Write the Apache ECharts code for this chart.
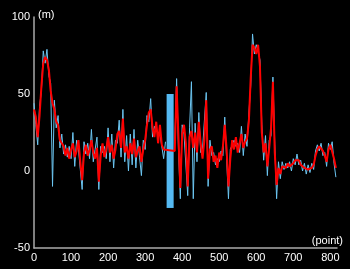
<!DOCTYPE html>
<html>
<head>
<meta charset="utf-8">
<script src="https://cdn.jsdelivr.net/npm/echarts@6/dist/echarts.min.js"></script>
<style>
html,body{margin:0;padding:0;background:#000;}
#c{width:350px;height:269px;}
</style>
</head>
<body>
<div id="c"></div>
<script>
// x positions: every 5 points from 0 to 815
var xStep = 5;
var xTicks = [0, 100, 200, 300, 400, 500, 600, 700, 800];
var yTicks = [-50, 0, 50, 100];
// raw measurement (light blue), null = missing
var rawValues = [
44,30,17,42,52,78,70,79,62,57,
-10,46,28,36,15,24,11,17,9,16,
8,25,3,20,14,1,-12,19,11,18,
8,27,6,14,22,-12,16,12,16,8,
28,6,24,2,20,18,33,9,40,6,
23,0,24,4,27,2,20,9,-3,20,
14,36,32,47,22,29,26,25,24,24,
8,19,null,null,null,null,18,60,14,-18,
30,24,25,-16,28,58,-18,31,6,38,
12,14,14,51,-10,20,10,12,4,8,
6,13,10,35,8,-18,14,14,20,16,
18,12,29,10,24,16,37,55,89,76,
82,78,72,30,7,23,-3,20,23,61,
17,-18,6,-5,6,1,5,2,6,0,
8,4,11,4,7,0,5,-2,4,-1,
5,1,13,17,13,18,10,12,3,18,
14,19,5,-4
];
// smoothed (red)
var smoothValues = [
40,35,22,36,55,70,74,72,66,52,
44,40,32,30,20,18,16,10,15,8,
14,18,9,13,20,6,-6,12,17,10,
14,20,12,8,15,-7,10,18,9,14,
22,12,17,8,14,24,26,15,34,12,
16,8,18,11,21,9,13,16,6,14,
20,30,38,40,28,22,32,18,30,17,
14,13,null,null,null,null,13,55,22,-11,
24,30,18,-10,22,26,15,25,12,32,
18,8,20,46,-5,14,16,6,10,2,
12,7,16,30,14,-10,8,20,14,22,
12,18,24,15,19,21,32,60,82,80,
76,82,68,25,12,18,3,15,28,58,
12,-9,2,-2,3,4,2,5,3,3,
5,7,8,7,4,3,2,1,1,2,
2,4,10,14,16,15,13,10,6,14,
17,16,8,2
];
// highlighted missing-data span
var gapBand = {x0: 358, x1: 377, y0: -24, y1: 50};

function pairs(vals){
  return vals.map(function(v,i){ return [i*xStep, v===null ? '-' : v]; });
}

var chart = echarts.init(document.getElementById('c'), null, {renderer:'canvas'});
chart.setOption({
  backgroundColor: '#000',
  animation: false,
  grid: {left: 34, right: 13, top: 17, bottom: 21, containLabel: false},
  xAxis: {
    type: 'value', min: 0, max: 818, interval: 100,
    name: '(point)', nameLocation: 'end', nameGap: 6,
    nameTextStyle: {color: '#fff', fontSize: 11, fontFamily: 'Liberation Sans', align: 'right', verticalAlign: 'bottom', padding: [0,0,2,0]},
    axisLine: {show: true, onZero: false, lineStyle: {color: '#aaa', width: 1.5}},
    axisTick: {show: false},
    splitLine: {show: false},
    axisLabel: {color: '#fff', fontSize: 11, fontFamily: 'Liberation Sans', margin: 4, showMaxLabel: false,
      formatter: function(v){ return xTicks.indexOf(v) >= 0 ? String(v) : ''; }}
  },
  yAxis: {
    type: 'value', min: -50, max: 100, interval: 50,
    name: '(m)', nameLocation: 'end', nameGap: 2,
    nameTextStyle: {color: '#fff', fontSize: 11, fontFamily: 'Liberation Sans', align: 'left', verticalAlign: 'middle', padding: [0,0,0,4]},
    axisLine: {show: true, onZero: false, lineStyle: {color: '#aaa', width: 1.5}},
    axisTick: {show: false},
    splitLine: {show: false},
    axisLabel: {color: '#fff', fontSize: 11, fontFamily: 'Liberation Sans', margin: 4,
      formatter: function(v){ return yTicks.indexOf(v) >= 0 ? String(v) : ''; }}
  },
  series: [
    {
      type: 'line', data: pairs(rawValues), showSymbol: false, connectNulls: false,
      lineStyle: {color: '#6cc6f2', width: 1}, z: 2
    },
    {
      type: 'line', data: pairs(smoothValues), showSymbol: false, connectNulls: true,
      lineStyle: {color: '#ff0000', width: 2}, z: 3,
      markArea: {
        silent: true,
        itemStyle: {color: '#55b9f2', opacity: 1},
        data: [[{coord: [gapBand.x0, gapBand.y0]}, {coord: [gapBand.x1, gapBand.y1]}]]
      }
    }
  ]
});
</script>
</body>
</html>
